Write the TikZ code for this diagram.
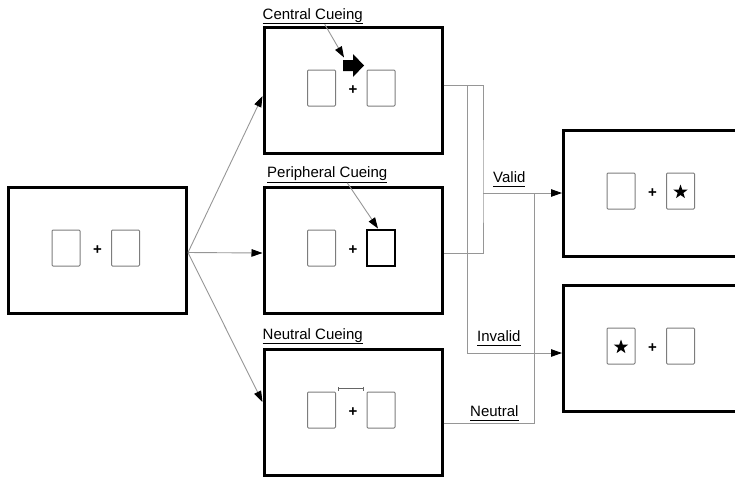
\documentclass[tikz,border=0pt]{standalone}
\usepackage{fontspec}
\setmainfont{Liberation Sans}
\usetikzlibrary{arrows.meta,positioning,shapes.geometric}
\definecolor{linkgray}{RGB}{150,150,150}
\definecolor{slotgray}{RGB}{125,125,125}

% underlined caption, same depth with or without descenders
\newcommand{\ulabel}[1]{\underline{#1\vphantom{g}}}
% two placeholder slots and the fixation cross inside a screen
\newcommand{\display}[1]{%
  \node[slotbox] (#1-l) at ([shift={(-31.5pt,2pt)}]#1.center) {};
  \node[slotbox] (#1-r) at ([shift={(28pt,2pt)}]#1.center) {};
  \node[crossmark] (#1-x) at (#1.center) {+};
}

\begin{document}
\begin{tikzpicture}[x=1pt, y=-1pt, node distance=31pt,
  screenbox/.style={draw, line width=3pt, minimum width=178pt, minimum height=126pt, inner sep=0pt},
  slotbox/.style={draw=slotgray, line width=1pt, rounded corners=1pt, minimum width=28pt, minimum height=36pt, inner sep=0pt},
  crossmark/.style={font=\fontsize{15}{15}\selectfont\bfseries, inner sep=0pt},
  cuebox/.style={draw, line width=2.4pt, minimum width=27.5pt, minimum height=36.5pt, inner sep=0pt},
  probestar/.style={star, star points=5, star point ratio=2.5, fill, minimum size=15pt, inner sep=0pt},
  cuetag/.style={font=\fontsize{15}{18}\selectfont, inner sep=0pt, anchor=base west},
  linkline/.style={draw=linkgray, line width=0.9pt},
  arrowline/.style={linkline, -{Triangle[length=11pt,width=7.5pt,black]}}
]
\useasboundingbox (0,0) rectangle (735,477);

% screens
\node[screenbox] (central) at (353,90) {};
\node[screenbox, below=of central] (periph) {};
\node[screenbox, below=33pt of periph] (neutral) {};
\node[screenbox, left=74.5pt of periph] (fixation) {};
\node[screenbox] (validscr) at (652.5,193) {};
\node[screenbox, below=26pt of validscr] (invalidscr) {};

\foreach \s in {fixation,central,periph,neutral,validscr,invalidscr}
  \display{\s};

% cues
\node[cuebox] (periphcue) at (periph-r) {};
\coordinate (cue) at ([yshift=24.5pt]central.center);
\fill ([shift={(-10pt,5.5pt)}]cue) -- ++(10pt,0pt) -- ++(0pt,6pt) -- ++(11pt,-11.5pt)
  -- ++(-11pt,-11.5pt) -- ++(0pt,6pt) -- ++(-10pt,0pt) -- cycle;
\draw[draw=black!60, line width=1pt, {Bar[width=4pt]}-{Bar[width=4pt]}]
  ([shift={(-15pt,23.5pt)}]neutral.center) -- ++(26pt,0pt);

% targets
\node[probestar] (validstar) at ([yshift=-1pt]validscr-r.center) {};
\node[probestar] (invalidstar) at ([yshift=-1pt]invalidscr-l.center) {};

% captions
\node[cuetag] (centraltag) at ([yshift=6.5pt]central.north west) {\ulabel{Central Cueing}};
\node[cuetag] (periphtag) at ([shift={(4.5pt,8pt)}]periph.north west) {\ulabel{Peripheral Cueing}};
\node[cuetag] (neutraltag) at ([yshift=8.5pt]neutral.north west) {\ulabel{Neutral Cueing}};
\node[cuetag] (validtag) at (493,182) {\ulabel{Valid}};
\node[cuetag] (invalidtag) at (477,341) {\ulabel{Invalid}};
\node[cuetag] (neutrallink) at (470,416) {\ulabel{Neutral}};

\draw[arrowline] ([xshift=12pt]centraltag.south) -- ([shift={(-9pt,8pt)}]cue);
\draw[arrowline] ([xshift=20pt]periphtag.south) -- ([xshift=-3pt]periphcue.north);

% fixation to the three cue conditions
\draw[arrowline] ([yshift=-2.5pt]fixation.east) -- ([yshift=-6pt]central.west);
\draw[arrowline] ([yshift=-2.5pt]fixation.east) -- ([yshift=-3pt]periph.west);
\draw[arrowline] ([yshift=-2.5pt]fixation.east) -- ([yshift=10pt]neutral.west);

% cue conditions to the target screens
\coordinate (centralout) at ([yshift=5pt]central.east);
\coordinate (validfork) at (483,193);
\coordinate (invalidfork) at (467,353);
\coordinate (neutralfork) at (534,193);
\draw[linkline] (centralout) -| (validfork) |- ([yshift=-3.5pt]periph.east);
\draw[arrowline] (validfork) -- (validscr.west);
\draw[arrowline] (centralout -| invalidfork) -- (invalidfork) -- (invalidfork -| invalidscr.west);
\draw[linkline] ([yshift=-11.5pt]neutral.east) -| (neutralfork);
\end{tikzpicture}
\end{document}
